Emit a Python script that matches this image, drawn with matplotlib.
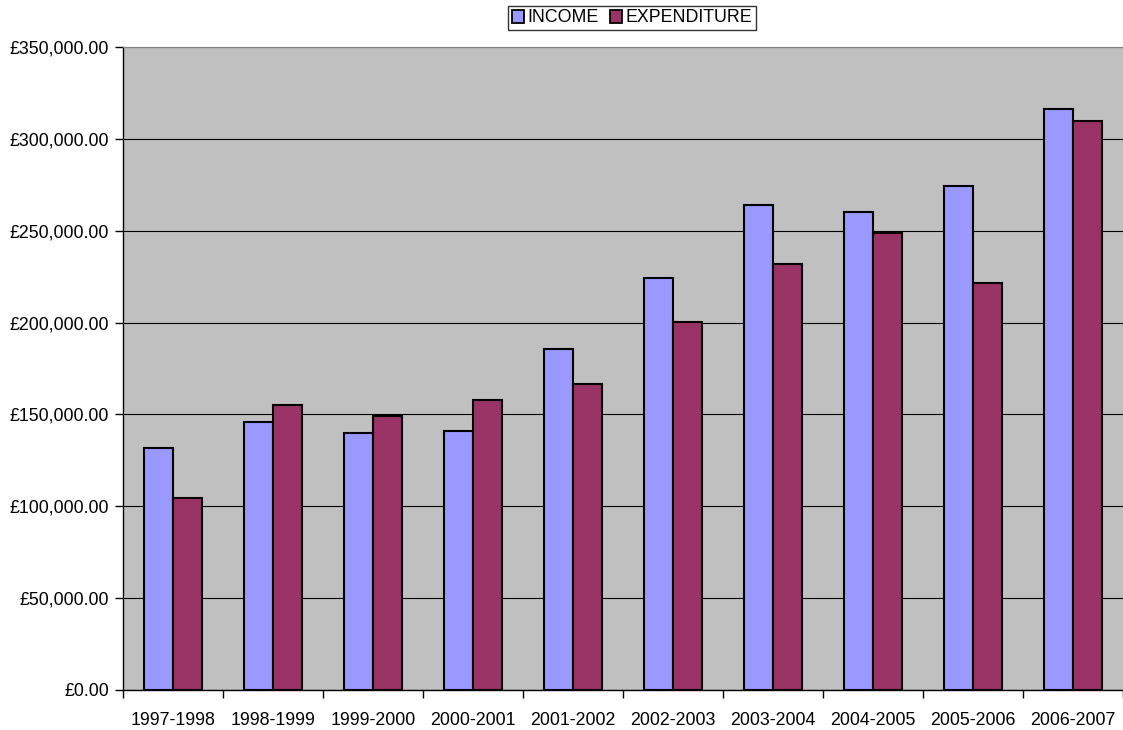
import matplotlib
matplotlib.use("Agg")
import matplotlib.pyplot as plt
import matplotlib.ticker as mticker
import numpy as np

years = ["1997-1998", "1998-1999", "1999-2000", "2000-2001", "2001-2002",
         "2002-2003", "2003-2004", "2004-2005", "2005-2006", "2006-2007"]
income = [131700, 145900, 139900, 141000, 185600, 224300, 264000, 260200, 274300, 316300]
expenditure = [104500, 155100, 149100, 157900, 166600, 200300, 231900, 248800, 221500, 309700]

plt.rcParams['font.family'] = ['Liberation Sans', 'DejaVu Sans']

fig = plt.figure(figsize=(11.23, 7.3), dpi=100)
ax = fig.add_axes([123 / 1123, 40 / 730, 1000 / 1123, 643 / 730])
ax.set_facecolor("#C0C0C0")

x = np.arange(len(years))
w = 0.29
ax.bar(x - w / 2, income, w, color="#9999FF", edgecolor="black", linewidth=1.5,
       label="INCOME", zorder=3)
ax.bar(x + w / 2, expenditure, w, color="#993366", edgecolor="black", linewidth=1.5,
       label="EXPENDITURE", zorder=3)

ax.set_xlim(-0.5, len(years) - 0.5)
ax.set_ylim(0, 350000)
ax.yaxis.set_major_locator(mticker.MultipleLocator(50000))
ax.yaxis.set_major_formatter(mticker.FuncFormatter(lambda v, p: "£{:,.2f}".format(v)))
ax.yaxis.grid(True, color="black", linewidth=0.8, zorder=0)

# category ticks sit between the groups
ax.set_xticks(x)
ax.set_xticklabels(years)
ax.tick_params(axis="x", length=0, pad=16, labelsize=12.8)
ax.set_xticks(np.arange(len(years) + 1) - 0.5, minor=True)
ax.tick_params(axis="x", which="minor", length=6, width=1, direction="out")
ax.tick_params(axis="y", length=6, width=1, direction="out", labelsize=12.8, pad=4)

ax.spines["right"].set_visible(False)
ax.spines["top"].set_color("#808080")
ax.spines["left"].set_linewidth(1)
ax.spines["bottom"].set_linewidth(1)

leg = fig.legend(loc="center", bbox_to_anchor=(632 / 1123, 1 - 18 / 730), ncol=2,
                 frameon=True, fancybox=False, edgecolor="black", fontsize=12.8,
                 handlelength=0.7, handleheight=0.7, handletextpad=0.2,
                 columnspacing=0.6, borderpad=0.2, borderaxespad=0)
leg.get_frame().set_linewidth(1)
for h in leg.legend_handles:
    h.set_linewidth(1.3)

fig.savefig("out.png", dpi=100)
